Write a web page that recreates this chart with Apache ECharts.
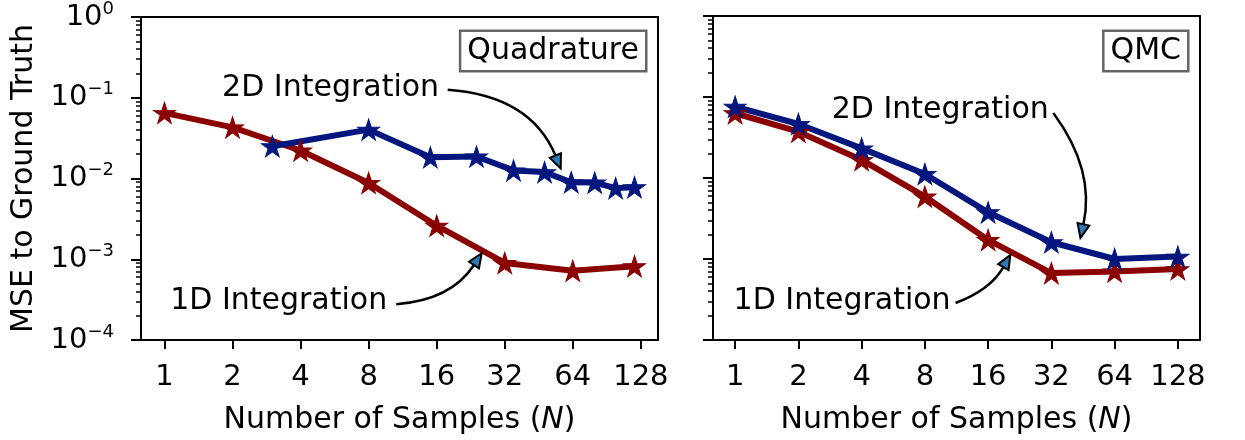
<!DOCTYPE html>
<html>
<head>
<meta charset="utf-8">
<script src="https://cdn.jsdelivr.net/npm/echarts@6/dist/echarts.min.js"></script>
<style>
html, body { margin: 0; padding: 0; background: #fff; }
#chart { width: 1245px; height: 440px; }
</style>
</head>
<body>
<div id="chart"></div>
<script>
// Quadrature panel
const quad1dN = [1, 2, 4, 8, 16, 32, 64, 120]
const quad1dMse = [0.065, 0.043, 0.0222, 0.0088, 0.0026, 0.00090, 0.00072, 0.00082]
const quad2dN = [3, 8, 15, 24, 35, 48, 63, 80, 99, 120]
const quad2dMse = [0.0251, 0.0403, 0.0183, 0.0187, 0.0126, 0.0120, 0.0090, 0.0089, 0.0076, 0.0078]

// QMC panel
const qmcN = [1, 2, 4, 8, 16, 32, 64, 128]
const qmc1dMse = [0.063, 0.0373, 0.0167, 0.0059, 0.00172, 0.00067, 0.00070, 0.00075]
const qmc2dMse = [0.076, 0.0464, 0.0232, 0.0112, 0.00377, 0.00161, 0.00100, 0.00107]

const xTicks = [1, 2, 4, 8, 16, 32, 64, 128]
const yTicks = [1e-4, 1e-3, 1e-2, 1e-1, 1]
const panelTitles = ['Quadrature', 'QMC']

// minor ticks 2..9 x 10^k
const yMinorTicks = []
for (let e = -4; e < 0; e++) {
  for (let m = 2; m <= 9; m++) yMinorTicks.push(m * Math.pow(10, e))
}

const RED = '#8b0000'
const BLUE = '#04177f'
const FONT = '"DejaVu Sans", sans-serif'
const STAR = 'path://M0,-10L2.245,-3.09L9.51,-3.09L3.63,1.18L5.88,8.09L0,3.82L-5.88,8.09L-3.63,1.18L-9.51,-3.09L-2.245,-3.09Z'

const grids = [
  { left: 141, top: 16, width: 517, height: 324 },
  { left: 713, top: 16, width: 487, height: 324 }
]
// x extents with matplotlib-like 5% margins in log space
const xExtents = [
  [Math.pow(2, -0.345), Math.pow(2, Math.log2(120) + 0.345)],
  [Math.pow(2, -0.35), Math.pow(2, 7.35)]
]

function zip(xs, ys) {
  return xs.map((x, i) => [x, ys[i]])
}

function yLabel(value) {
  const e = Math.round(Math.log10(value))
  const exp = e < 0 ? '\u2212' + (-e) : String(e)
  return '{b|10}{s|' + exp + '}'
}

const xAxes = grids.map((g, i) => ({
  type: 'log',
  logBase: 2,
  gridIndex: i,
  min: xExtents[i][0],
  max: xExtents[i][1],
  name: 'Number of Samples ({i|N})',
  nameLocation: 'middle',
  nameGap: 65,
  nameTextStyle: {
    fontSize: 30,
    fontFamily: FONT,
    color: '#000',
    rich: { i: { fontSize: 30, fontFamily: FONT, fontStyle: 'italic', color: '#000' } }
  },
  axisLine: { lineStyle: { color: '#000', width: 2 } },
  axisTick: { customValues: xTicks, length: 9, lineStyle: { color: '#000', width: 2 } },
  axisLabel: { customValues: xTicks, fontSize: 29, fontFamily: FONT, color: '#000', margin: 23 },
  splitLine: { show: false },
  minorTick: { show: false }
}))

const yMajor = grids.map((g, i) => ({
  type: 'log',
  logBase: 10,
  gridIndex: i,
  position: 'left',
  min: 1e-4,
  max: 1,
  name: i === 0 ? 'MSE to Ground Truth' : '',
  nameLocation: 'middle',
  nameGap: 102,
  nameTextStyle: { fontSize: 30, fontFamily: FONT, color: '#000' },
  axisLine: { lineStyle: { color: '#000', width: 2 } },
  axisTick: { customValues: yTicks, length: 10, lineStyle: { color: '#000', width: 2 } },
  axisLabel: {
    show: i === 0,
    customValues: yTicks,
    margin: 27,
    formatter: yLabel,
    rich: {
      b: { fontSize: 29, fontFamily: FONT, color: '#000', lineHeight: 34 },
      s: { fontSize: 18, fontFamily: FONT, color: '#000', lineHeight: 18, verticalAlign: 'top' }
    }
  },
  splitLine: { show: false },
  minorTick: { show: false }
}))

const yMinor = grids.map((g, i) => ({
  type: 'log',
  logBase: 10,
  gridIndex: i,
  position: 'left',
  offset: 0,
  min: 1e-4,
  max: 1,
  axisLine: { show: false },
  axisTick: { customValues: yMinorTicks, length: 5, lineStyle: { color: '#000', width: 1.5 } },
  axisLabel: { show: false },
  splitLine: { show: false }
}))

function lineSeries(data, color, gi) {
  return {
    type: 'line',
    xAxisIndex: gi,
    yAxisIndex: gi,
    data: data,
    symbol: STAR,
    symbolSize: [22, 21],
    showSymbol: true,
    lineStyle: { color: color, width: 6 },
    itemStyle: { color: color, borderColor: color, borderWidth: 1 },
    emphasis: { disabled: true },
    animation: false
  }
}

const chart = echarts.init(document.getElementById('chart'))
chart.setOption({
  animation: false,
  backgroundColor: '#fff',
  grid: grids.map(g => Object.assign({ show: true, borderColor: '#000', borderWidth: 2, backgroundColor: 'transparent' }, g)),
  xAxis: xAxes,
  yAxis: yMajor.concat(yMinor),
  series: [
    lineSeries(zip(quad1dN, quad1dMse), RED, 0),
    lineSeries(zip(quad2dN, quad2dMse), BLUE, 0),
    lineSeries(zip(qmcN, qmc1dMse), RED, 1),
    lineSeries(zip(qmcN, qmc2dMse), BLUE, 1)
  ]
})

// annotations in data coordinates: text centre, arrow start, curve control, arrow tip
const annotations = [
  { gi: 0, text: '2D Integration', at: [5.43, 0.1329], from: [17.9, 0.1256], ctrl: [41.7, 0.1059], tip: [56.6, 0.0133] },
  { gi: 0, text: '1D Integration', at: [3.2, 0.000303], from: [10.6, 0.000278], ctrl: [18.5, 0.000312], tip: [25.3, 0.001186] },
  { gi: 1, text: '2D Integration', at: [9.47, 0.0691], from: [32.7, 0.0634], ctrl: [51.8, 0.01256], tip: [44.0, 0.001816] },
  { gi: 1, text: '1D Integration', at: [3.23, 0.000303], from: [11.2, 0.000286], ctrl: [16.4, 0.000414], tip: [20.4, 0.00112] }
]

const graphics = []
annotations.forEach(a => {
  const px = p => chart.convertToPixel({ xAxisIndex: a.gi, yAxisIndex: a.gi }, p)
  const c = px(a.at), s = px(a.from), k = px(a.ctrl), t = px(a.tip)
  let dx = t[0] - k[0], dy = t[1] - k[1]
  const len = Math.sqrt(dx * dx + dy * dy)
  dx /= len; dy /= len
  const L = 14, W = 6
  const b = [t[0] - dx * L, t[1] - dy * L]
  graphics.push({
    type: 'text', x: c[0], y: c[1], z: 10,
    style: { text: a.text, fontSize: 30, fontFamily: FONT, fill: '#000', align: 'center', verticalAlign: 'middle' }
  })
  graphics.push({
    type: 'bezierCurve', z: 10,
    shape: { x1: s[0], y1: s[1], cpx1: k[0], cpy1: k[1], x2: b[0], y2: b[1] },
    style: { stroke: '#000', lineWidth: 2.5, fill: null }
  })
  graphics.push({
    type: 'polygon', z: 11,
    shape: { points: [t, [b[0] - dy * W, b[1] + dx * W], [b[0] + dy * W, b[1] - dx * W]] },
    style: { fill: '#2c7bb6', stroke: '#000', lineWidth: 2, lineJoin: 'miter' }
  })
})

panelTitles.forEach((title, i) => {
  const g = grids[i]
  graphics.push({
    type: 'text', x: g.left + g.width - 13, y: g.top + 16, z: 10,
    style: {
      text: title, fontSize: 30, fontFamily: FONT, fill: '#000', lineHeight: 32,
      align: 'right', verticalAlign: 'top',
      backgroundColor: '#fff', borderColor: '#666', borderWidth: 2.5, padding: [3, 6, 3, 6]
    }
  })
})

chart.setOption({ graphic: graphics })
</script>
</body>
</html>
